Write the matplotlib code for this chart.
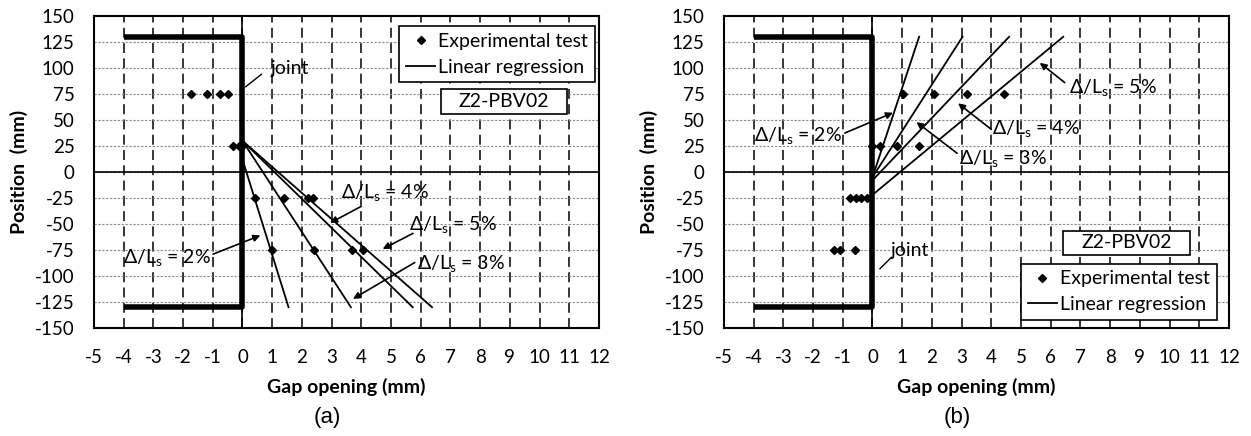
import matplotlib
matplotlib.use("Agg")
import matplotlib.pyplot as plt
from matplotlib.lines import Line2D
from matplotlib.patches import Rectangle

plt.rcParams["font.family"] = ["Lato", "DejaVu Sans"]
plt.rcParams["mathtext.default"] = "regular"
plt.rcParams["axes.unicode_minus"] = False

# ---- panel (a): gap opening (mm) vs position (mm)
a_gap = [-1.74, -1.2, -0.76, -0.49,
         -0.33, -0.12, -0.06, 0.0,
         0.42, 1.39, 2.2, 2.36,
         0.98, 2.4, 3.7, 4.04]
a_pos = [75, 75, 75, 75,
         25, 25, 25, 25,
         -25, -25, -25, -25,
         -75, -75, -75, -75]
# regression lines (start / end)
a_reg_gap = [(0.0, 1.55), (0.0, 3.65), (0.0, 5.73), (0.0, 6.38)]
a_reg_pos = [(12, -130), (30, -130), (30, -130), (30, -130)]
a_labels = ["2%", "4%", "5%", "3%"]
a_text_xy = [(-2.55, -82), (4.8, -20), (7.1, -50), (7.35, -88)]
a_arrow_from = [(-0.99, -79), (4.0, -33), (5.74, -59), (5.8, -87)]
a_arrow_to = [(0.6, -61), (2.95, -49), (4.72, -74), (3.72, -122)]
a_joint_text = (0.95, 100)
a_joint_line = [(0.11, 82), (0.64, 94)]

# ---- panel (b)
b_gap = [1.03, 2.07, 3.17, 4.43,
         -0.03, 0.25, 0.83, 1.57,
         -0.76, -0.56, -0.37, -0.18,
         -1.30, -1.10, -0.59]
b_pos = [75, 75, 75, 75,
         25, 25, 25, 25,
         -25, -25, -25, -25,
         -75, -75, -75]
b_reg_gap = [(0.0, 1.57), (0.0, 3.03), (0.0, 4.6), (0.0, 6.42)]
b_reg_pos = [(-5, 130), (-5, 130), (-8, 130), (-22, 130)]
b_labels = ["2%", "3%", "4%", "5%"]
b_text_xy = [(-2.5, 35), (4.4, 13), (5.5, 42), (8.1, 81)]
b_arrow_from = [(-0.93, 37.5), (2.85, 18), (4.0, 41), (6.47, 86)]
b_arrow_to = [(0.69, 57), (1.48, 48), (2.88, 66), (5.63, 105)]
b_joint_text = (0.62, -75)
b_joint_line = [(0.25, -93), (0.64, -82)]

# joint outline (thick)
joint_x = [-4, 0, 0, -4]
joint_y = [130, 130, -130, -130]

specimen = "Z2-PBV02"
a_spec_box = (6.67, 55.8, 4.26, 24)     # x, y, w, h in data units
b_spec_box = (6.42, -79.8, 4.27, 23.4)

fig = plt.figure(figsize=(12.51, 4.36), dpi=100)
ax_a = fig.add_axes([0.0751, 0.2477, 0.4037, 0.7156])
ax_b = fig.add_axes([0.5787, 0.2477, 0.4037, 0.7156])


def base(ax):
    ax.set_xlim(-5, 12); ax.set_ylim(-150, 150)
    ax.set_xticks(range(-5, 13)); ax.set_yticks(range(-150, 151, 25))
    ax.tick_params(length=0, labelsize=13.5)
    ax.tick_params(axis="x", pad=15)
    ax.tick_params(axis="y", pad=14)
    for x in range(-4, 12):
        ax.axvline(x, color="black", lw=1.1, ls=(0, (6.5, 3.5)), zorder=1)
    for y in range(-125, 150, 25):
        ax.axhline(y, color="#888888", lw=0.8, ls=(0, (2, 1.5)), zorder=1)
    ax.axhline(0, color="black", lw=1.2, zorder=2)
    ax.axvline(0, color="black", lw=1.2, zorder=2)
    ax.plot(joint_x, joint_y, color="black", lw=4, solid_capstyle="butt", zorder=3)
    for s in ax.spines.values():
        s.set_linewidth(1.5)
    ax.set_xlabel("Gap opening (mm)", fontsize=14, fontweight="bold", labelpad=9)
    ax.set_ylabel("Position  (mm)", fontsize=14, fontweight="bold", labelpad=5)


def draw(ax, gap, pos, rg, rp, labels, txy, afrom, ato, jt, jl, sbox):
    base(ax)
    for gx, py in zip(rg, rp):
        ax.plot(gx, py, color="black", lw=1.3, zorder=4)
    ax.plot(gap, pos, ls="none", marker="D", ms=4.5, color="black", zorder=5)
    for lab, (tx, ty), fr, to in zip(labels, txy, afrom, ato):
        ax.text(tx, ty, "Δ/L$_s$ = " + lab, fontsize=14, ha="center", va="center", zorder=6)
        ax.annotate("", xy=to, xytext=fr,
                    arrowprops=dict(arrowstyle="-|>", color="black", lw=1.2,
                                    mutation_scale=10, shrinkA=0, shrinkB=0), zorder=6)
    ax.text(jt[0], jt[1], "joint", fontsize=14, ha="left", va="center", zorder=6)
    ax.plot([jl[0][0], jl[1][0]], [jl[0][1], jl[1][1]], color="black", lw=1.0, zorder=6)
    x0, y0, w, h = sbox
    ax.add_patch(Rectangle((x0, y0), w, h, fc="white", ec="black", lw=1.2, zorder=7))
    ax.text(x0 + w / 2, y0 + h / 2, specimen, fontsize=14, ha="center", va="center", zorder=8)


draw(ax_a, a_gap, a_pos, a_reg_gap, a_reg_pos, a_labels, a_text_xy,
     a_arrow_from, a_arrow_to, a_joint_text, a_joint_line, a_spec_box)
draw(ax_b, b_gap, b_pos, b_reg_gap, b_reg_pos, b_labels, b_text_xy,
     b_arrow_from, b_arrow_to, b_joint_text, b_joint_line, b_spec_box)

handles = [Line2D([], [], ls="none", marker="D", ms=4.5, color="black"),
           Line2D([], [], color="black", lw=1.3)]
names = ["Experimental test", "Linear regression"]
for ax, loc, anchor in ((ax_a, "upper right", (0.992, 0.968)),
                        (ax_b, "lower right", (0.9756, 0.0256))):
    leg = ax.legend(handles, names, loc=loc, bbox_to_anchor=anchor,
                    fontsize=14, frameon=True, fancybox=False, edgecolor="black",
                    framealpha=1, borderpad=0.35, handlelength=1.5, handletextpad=0.15,
                    labelspacing=0.45, borderaxespad=0)
    leg.get_frame().set_linewidth(1.2)
    leg.set_zorder(9)

fig.text(0.262, 0.043, "(a)", fontsize=16, family="Liberation Sans", ha="center", va="center")
fig.text(0.765, 0.043, "(b)", fontsize=16, family="Liberation Sans", ha="center", va="center")

fig.savefig("out.png", dpi=100)
